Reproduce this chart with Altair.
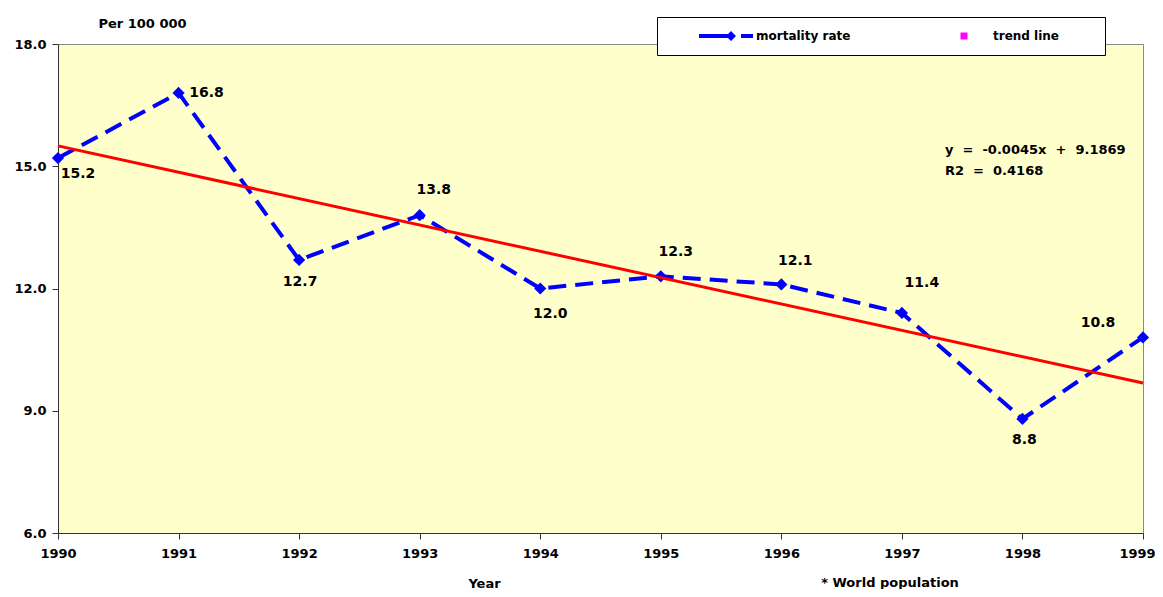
import altair as alt
import pandas as pd

# ---- data ----
years = [1990, 1991, 1992, 1993, 1994, 1995, 1996, 1997, 1998, 1999]
rates = [15.2, 16.8, 12.7, 13.8, 12.0, 12.3, 12.1, 11.4, 8.8, 10.8]
trend_years = [1990, 1999]
trend_values = [15.5, 9.68]
y_ticks = [6, 9, 12, 15, 18]
series_names = ["mortality rate", "trend line"]

FONT = "DejaVu Sans"
BLUE = "#0000FF"
RED = "#FF0000"
NB = "\u00a0"

df = pd.DataFrame({"year": years, "rate": rates})
tdf = pd.DataFrame({"year": trend_years, "rate": trend_values})
ldf = pd.DataFrame({"series": series_names, "year": [years[0]] * 2, "rate": [y_ticks[0]] * 2})
one = pd.DataFrame({"k": [0]})

x_enc = alt.X(
    "year:Q",
    scale=alt.Scale(domain=[1990, 1999], nice=False, zero=False),
    axis=alt.Axis(values=years, format="d", title="Year", labelPadding=8,
                  titleX=426, titleY=50, titleBaseline="middle", titleAlign="center",
                  labelFlush=False, labelOverlap=False,
                  labelOffset={"condition": {"test": "datum.value == 1999", "value": -6}, "value": 0}),
)
y_enc = alt.Y(
    "rate:Q",
    scale=alt.Scale(domain=[6, 18], nice=False, zero=False),
    axis=alt.Axis(values=y_ticks, format=".1f", title="Per 100 000", titleAngle=0,
                  titleX=84, titleY=-21, titleAlign="center", titleBaseline="middle",
                  labelPadding=6),
)

blue_line = alt.Chart(df).mark_line(color=BLUE, strokeWidth=4, strokeDash=[18, 9]).encode(x=x_enc, y=y_enc)
blue_pts = alt.Chart(df).mark_point(shape="diamond", filled=True, size=150, color=BLUE, opacity=1).encode(x="year:Q", y="rate:Q")
red_line = alt.Chart(tdf).mark_line(color=RED, strokeWidth=3).encode(x="year:Q", y="rate:Q")

label_offsets = {
    1990: (20, 16), 1991: (28, 0), 1992: (1, 22), 1993: (14, -25), 1994: (10, 25),
    1995: (15, -24), 1996: (14, -23), 1997: (20, -30), 1998: (2, 21), 1999: (-45, -14),
}
labels = []
for yr, (ddx, ddy) in label_offsets.items():
    labels.append(
        alt.Chart(df).transform_filter(alt.datum.year == yr)
        .mark_text(dx=ddx, dy=ddy, font=FONT, fontSize=14, fontWeight="bold", color="black",
                   align="center", baseline="middle")
        .encode(x="year:Q", y="rate:Q", text=alt.Text("rate:Q", format=".1f"))
    )

eq_str = f"y{NB} ={NB} -0.0045x{NB} +{NB} 9.1869\nR2{NB} ={NB} 0.4168"
eq_text = alt.Chart(one).mark_text(
    align="left", baseline="top", font=FONT, fontSize=13, fontWeight="bold", color="black",
    lineBreak="\n", lineHeight=21,
).encode(x=alt.value(887), y=alt.value(100), text=alt.value(eq_str))

footnote = alt.Chart(one).mark_text(
    align="center", baseline="middle", font=FONT, fontSize=13, fontWeight="bold", color="black",
).encode(x=alt.value(832), y=alt.value(539), text=alt.value("* World population"))

legend = alt.Legend(
    title=NB, titleOrient="right", titlePadding=33, titleFontSize=12,
    orient="none", legendX=599, legendY=-27, direction="horizontal", columns=2,
    columnPadding=56, padding=13, fillColor="white", strokeColor="black",
    symbolSize=100, symbolStrokeWidth=0, symbolOpacity=1, labelOffset=74,
    labelFont=FONT, labelFontSize=12, labelFontWeight="bold", labelColor="black",
)
mort_path = "M4.6,-0.4H10.4V0.4H4.6Z M11,-1L12,0L11,1L10,0Z M13,-0.4H15.4V0.4H13Z"
trend_path = "M9.5,-0.7H10.9V0.7H9.5Z"

legend_layer = alt.Chart(ldf).mark_point(filled=True, opacity=0).encode(
    x="year:Q", y="rate:Q",
    color=alt.Color("series:N", scale=alt.Scale(domain=series_names, range=[BLUE, "#FF00FF"]), legend=legend),
    shape=alt.Shape("series:N", scale=alt.Scale(domain=series_names, range=[mort_path, trend_path]), legend=legend),
)

chart = alt.layer(
    blue_line, blue_pts, red_line, *labels, eq_text, footnote, legend_layer
).properties(
    width=1085, height=489,
    autosize=alt.AutoSizeParams(type="none"),
    padding={"left": 50, "top": 36, "right": 12, "bottom": 56},
).configure_view(
    fill="#FFFFCC", stroke="#888888", strokeWidth=1,
).configure_axis(
    labelFont=FONT, labelFontSize=13, labelFontWeight="bold", labelColor="black",
    titleFont=FONT, titleFontSize=13, titleFontWeight="bold", titleColor="black",
    domainColor="#333333", tickColor="#333333", tickSize=6, grid=False,
)

chart.save("out.html", embed_options={"renderer": "svg", "actions": False})
